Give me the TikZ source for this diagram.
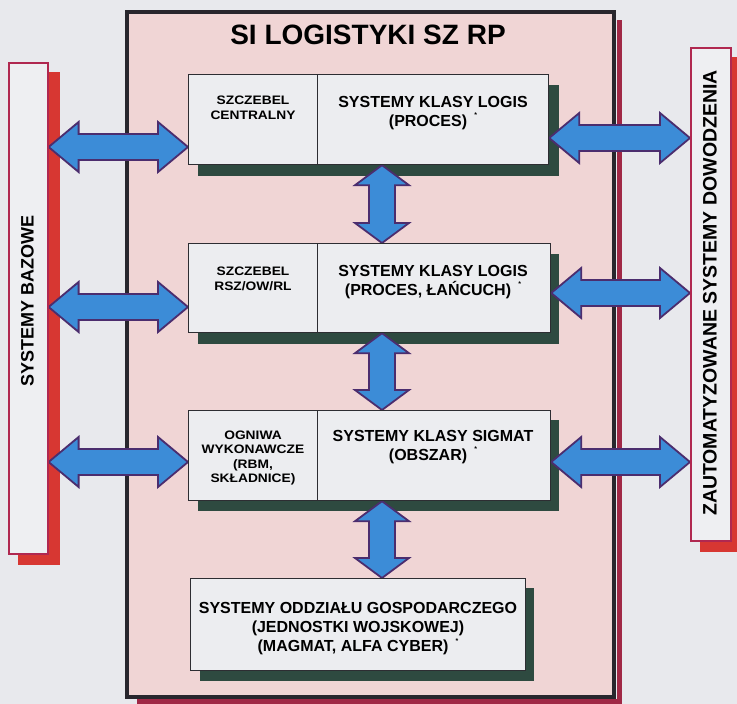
\documentclass[tikz,border=0pt]{standalone}
\usepackage{fontspec}
\setmainfont{Liberation Sans}
\newfontfamily\widesans[FakeStretch=1.12]{Liberation Sans}
\usetikzlibrary{calc}

\definecolor{bgcol}{RGB}{232,233,237}
\definecolor{pinkfill}{RGB}{240,213,213}
\definecolor{framedark}{RGB}{40,38,45}
\definecolor{frameshadow}{RGB}{160,40,70}
\definecolor{boxfill}{RGB}{236,237,240}
\definecolor{boxline}{RGB}{45,45,50}
\definecolor{boxshadow}{RGB}{46,74,64}
\definecolor{sideline}{RGB}{176,40,80}
\definecolor{sidefill}{RGB}{238,239,242}
\definecolor{sideshadow}{RGB}{215,55,50}
\definecolor{arrowblue}{RGB}{60,140,215}
\definecolor{arrowline}{RGB}{75,45,110}

\pgfdeclarelayer{back}
\pgfdeclarelayer{shade}
\pgfdeclarelayer{links}
\pgfsetlayers{back,shade,links,main}

% small raised footnote mark after the system names
\newcommand{\fnmark}{\hspace{0.45em}\raisebox{0.55em}{\fontsize{7}{7}\selectfont *}}

% horizontal double arrow between two points on one line
\newcommand{\hdarrow}[2]{%
  \draw[bluearrow] let \p1=(#1), \p2=(#2) in
    (\x1,\y1) -- (\x1+30pt,\y1+25pt) -- (\x1+30pt,\y1+13pt) -- (\x2-30pt,\y1+13pt)
    -- (\x2-30pt,\y1+25pt) -- (\x2,\y1) -- (\x2-30pt,\y1-25pt) -- (\x2-30pt,\y1-13pt)
    -- (\x1+30pt,\y1-13pt) -- (\x1+30pt,\y1-25pt) -- cycle;}

% vertical double arrow from an upper point down to a lower point
\newcommand{\vdarrow}[2]{%
  \draw[bluearrow] let \p1=(#1), \p2=(#2) in
    (\x1,\y1) -- (\x1+27pt,\y1-20pt) -- (\x1+13pt,\y1-20pt) -- (\x1+13pt,\y2+20pt)
    -- (\x1+27pt,\y2+20pt) -- (\x1,\y2) -- (\x1-27pt,\y2+20pt) -- (\x1-13pt,\y2+20pt)
    -- (\x1-13pt,\y1-20pt) -- (\x1-27pt,\y1-20pt) -- cycle;}

\begin{document}
\begin{tikzpicture}[x=1pt,y=-1pt,
  box/.style={draw=boxline, line width=1.2pt, fill=boxfill, inner sep=0pt, anchor=north west},
  sidebox/.style={draw=sideline, line width=1.6pt, fill=sidefill, inner sep=0pt, anchor=north west},
  lbl/.style={font=\widesans\bfseries\fontsize{12.3}{14.5}\selectfont, align=center, inner sep=0pt},
  sys/.style={font=\bfseries\fontsize{16}{19}\selectfont, align=center, inner sep=0pt},
  bluearrow/.style={fill=arrowblue, draw=arrowline, line width=1.8pt, line join=miter}]

\useasboundingbox (0,0) rectangle (737,704);

% main logistics frame with its shadow
\begin{pgfonlayer}{back}
  \fill[bgcol] (0,0) rectangle (737,704);
  \fill[frameshadow] (617,20) rectangle (622,704);
  \fill[frameshadow] (137,699) rectangle (622,704);
  \node[draw=framedark, line width=4pt, fill=pinkfill, minimum width=487pt,
        minimum height=685pt, anchor=north west, inner sep=0pt] (frame) at (125,10) {};
\end{pgfonlayer}

\node[font=\bfseries\fontsize{28}{30}\selectfont] (title) at (368,35) {SI LOGISTYKI SZ RP};

% side panels
\node[sidebox, minimum width=39pt, minimum height=491pt] (sb) at (8,62) {};
\node[sidebox, minimum width=40pt, minimum height=493pt] (rb) at (690,47) {};
\node[rotate=90, font=\bfseries\fontsize{18}{20}\selectfont] (sbt) at (27.5,301) {SYSTEMY BAZOWE};
\node[rotate=90, font=\bfseries\fontsize{19.5}{21}\selectfont] (rbt) at (710,293) {ZAUTOMATYZOWANE SYSTEMY DOWODZENIA};

% level boxes
\node[box, minimum width=129pt, minimum height=90pt] (b1l) at (188,74) {};
\node[box, minimum width=231pt, minimum height=90pt] (b1r) at (317,74) {};
\node[box, minimum width=129pt, minimum height=89pt] (b2l) at (188,243) {};
\node[box, minimum width=233pt, minimum height=89pt] (b2r) at (317,243) {};
\node[box, minimum width=129pt, minimum height=90pt] (b3l) at (188,410) {};
\node[box, minimum width=233pt, minimum height=90pt] (b3r) at (317,410) {};
\node[box, minimum width=335pt, minimum height=92pt] (b4) at (190,578) {};

\node[lbl] (l1) at (253,108) {SZCZEBEL\\CENTRALNY};
\node[sys] (s1) at (433,113) {SYSTEMY KLASY LOGIS\\(PROCES)\fnmark};
\node[lbl] (l2) at (253,279) {SZCZEBEL\\RSZ/OW/RL};
\node[sys] (s2) at (433,282) {SYSTEMY KLASY LOGIS\\(PROCES, ŁAŃCUCH)\fnmark};
\node[lbl] (l3) at (253,458) {OGNIWA\\WYKONAWCZE\\(RBM,\\SKŁADNICE)};
\node[sys] (s3) at (433,447) {SYSTEMY KLASY SIGMAT\\(OBSZAR)\fnmark};
\node[sys] (s4) at (358,629) {SYSTEMY ODDZIAŁU GOSPODARCZEGO\\(JEDNOSTKI WOJSKOWEJ)\\(MAGMAT, ALFA CYBER)\fnmark};

% drop shadows
\begin{pgfonlayer}{shade}
  \fill[sideshadow] ($(sb.north west)+(10,10)$) rectangle ($(sb.south east)+(11,10)$);
  \fill[sideshadow] ($(rb.north west)+(10,10)$) rectangle ($(rb.south east)+(10,10)$);
  \fill[boxshadow] ($(b1l.north west)+(10,11)$) rectangle ($(b1r.south east)+(10,11)$);
  \fill[boxshadow] ($(b2l.north west)+(10,11)$) rectangle ($(b2r.south east)+(8,11)$);
  \fill[boxshadow] ($(b3l.north west)+(10,10)$) rectangle ($(b3r.south east)+(8,10)$);
  \fill[boxshadow] ($(b4.north west)+(10,10)$) rectangle ($(b4.south east)+(8,10)$);
\end{pgfonlayer}

% data exchange arrows
\begin{pgfonlayer}{links}
  \hdarrow{sb.east |- 0,147}{b1l.west |- 0,147}
  \hdarrow{sb.east |- 0,307}{b2l.west |- 0,307}
  \hdarrow{sb.east |- 0,462}{b3l.west |- 0,462}
  \hdarrow{b1r.east |- 0,138}{rb.west |- 0,138}
  \hdarrow{b2r.east |- 0,293}{rb.west |- 0,293}
  \hdarrow{b3r.east |- 0,462}{rb.west |- 0,462}
  \vdarrow{382,0 |- b1r.south}{382,0 |- b2r.north}
  \vdarrow{382,0 |- b2r.south}{382,0 |- b3r.north}
  \vdarrow{382,0 |- b3r.south}{382,0 |- b4.north}
\end{pgfonlayer}

\end{tikzpicture}
\end{document}
